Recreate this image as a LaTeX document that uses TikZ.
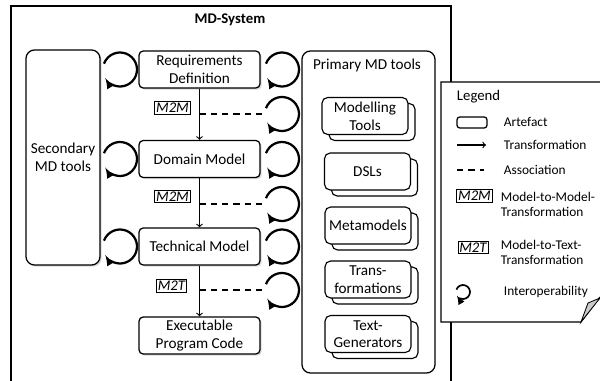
\documentclass[tikz,border=0pt]{standalone}
\usepackage{fontspec}
\setmainfont{Carlito}
\usepackage{tikz}
\usetikzlibrary{shadows}
\newdimen\pxu
\pxu=0.025cm

\begin{document}
\begin{tikzpicture}[x=0.025cm,y=-0.025cm,
        artefact/.style={draw, line width=0.9pt, rounded corners=3pt, fill=white, align=center,
            minimum width=121\pxu, minimum height=37\pxu, inner sep=1pt, font=\fontsize{10.8}{12.5}\selectfont,
            drop shadow={shadow xshift=1.2pt, shadow yshift=-1.2pt, opacity=0.3}},
        toolstack/.style={draw, line width=0.8pt, rounded corners=4pt, fill=white, align=center,
            minimum width=86\pxu, minimum height=37\pxu, inner sep=1pt, font=\fontsize{10.8}{12.5}\selectfont,
            copy shadow={shadow xshift=7\pxu, shadow yshift=-6\pxu, draw, fill=white}},
        tag/.style={draw, line width=0.5pt, fill=white, font=\fontsize{10.5}{12}\selectfont\itshape, inner sep=1pt},
        assoc/.style={line width=0.8pt, dash pattern=on 4.5pt off 3.5pt},
        interop/.style={line width=1.6pt, -latex},
        legtext/.style={anchor=west, align=left, font=\fontsize{9.5}{11}\selectfont}]
        \useasboundingbox (0,0) rectangle (600,381);

        \draw[line width=0.8pt] (11,381) -- (11,6) -- (451,6) -- (451,381);
        \node[font=\fontsize{10.5}{12}\selectfont\bfseries] (title) at (230,20) {MD-System};

        \node[artefact, minimum width=74\pxu, minimum height=215\pxu, rounded corners=6pt] (sec) at (63,157.5) {Secondary\\MD tools};

        \node[artefact] (req) at (199.5,69.5) {Requirements\\Definition};
        \node[artefact] (dom) at (199.5,159) {Domain Model};
        \node[artefact] (tech) at (199.5,246.5) {Technical Model};
        \node[artefact] (exe) at (199.5,335.5) {Executable\\Program Code};

        \draw[->, line width=0.8pt] (req) -- (dom);
        \draw[->, line width=0.8pt] (dom) -- (tech);
        \draw[->, line width=0.8pt] (tech) -- (exe);

        \node[tag] (mm1) at (172.5,108) {M2M};
        \node[tag] (mm2) at (172.5,196.5) {M2M};
        \node[tag] (mt1) at (171.5,286) {M2T};

        \coordinate (a1) at (199.5,114);
        \coordinate (a2) at (199.5,204);
        \coordinate (a3) at (199.5,290);
        \coordinate (b1) at (265,114);
        \coordinate (b2) at (265,204);
        \coordinate (b3) at (265,290);
        \draw[assoc] (a1) -- (b1);
        \draw[assoc] (a2) -- (b2);
        \draw[assoc] (a3) -- (b3);

        \foreach \y in {69.5,159,246.5} {
            \draw[interop] (120,\y) ++(-160:17) arc (-160:150:17);
        }
        \foreach \y in {69.5,114,159,204,246.5,290} {
            \draw[interop] (282,\y) ++(-160:17) arc (-160:150:17);
        }

        \node[draw, line width=0.9pt, rounded corners=6pt, fill=white, minimum width=133\pxu, minimum height=322\pxu] (prim) at (368.5,212) {};
        \node[font=\fontsize{10.8}{12.5}\selectfont] (primtitle) at (367,65) {Primary MD tools};
        \node[toolstack] (modtools) at (365,116) {Modelling\\Tools};
        \node[toolstack] (dsls) at (367.5,171.5) {DSLs};
        \node[toolstack] (meta) at (368,225.5) {Metamodels};
        \node[toolstack] (trans) at (368,279.5) {Trans-\\formations};
        \node[toolstack] (textgen) at (368,334) {Text-\\Generators};

        \fill[white] (441,82) -- (600,82) -- (600,298) -- (581,322) -- (441,322) -- cycle;
        \draw[line width=0.8pt] (600,82) -- (441,82) -- (441,322) -- (581,322) -- (600,297);
        \filldraw[fill=gray!40, line width=0.6pt] (581,322) -- (588,303) -- (600,298) -- cycle;

        \node[legtext] (legtitle) at (452,97) {\fontsize{10.5}{12}\selectfont Legend};
        \node[draw, line width=0.9pt, rounded corners=2pt, minimum width=30\pxu, minimum height=11\pxu, inner sep=0pt] (legart) at (472,122.5) {};
        \node[legtext] (artlabel) at (499,122) {Artefact};
        \coordinate (lt1) at (457,145);
        \coordinate (lt2) at (486,145);
        \draw[->, line width=0.8pt] (lt1) -- (lt2);
        \node[legtext] (translabel) at (499,145) {Transformation};
        \coordinate (la1) at (457,170);
        \coordinate (la2) at (484,170);
        \draw[assoc] (la1) -- (la2);
        \node[legtext] (asslabel) at (499,170) {Association};
        \node[tag] (legmm) at (474.5,196) {M2M};
        \node[legtext] (mmlabel) at (496,204.5) {Model-to-Model-\\Transformation};
        \node[tag] (legmt) at (473,247.5) {M2T};
        \node[legtext] (mtlabel) at (496,252.5) {Model-to-Text-\\Transformation};
        \draw[line width=1.2pt, -latex] (463,292) ++(-160:7) arc (-160:150:7);
        \node[legtext] (intlabel) at (499,292) {Interoperability};
\end{tikzpicture}
\end{document}
